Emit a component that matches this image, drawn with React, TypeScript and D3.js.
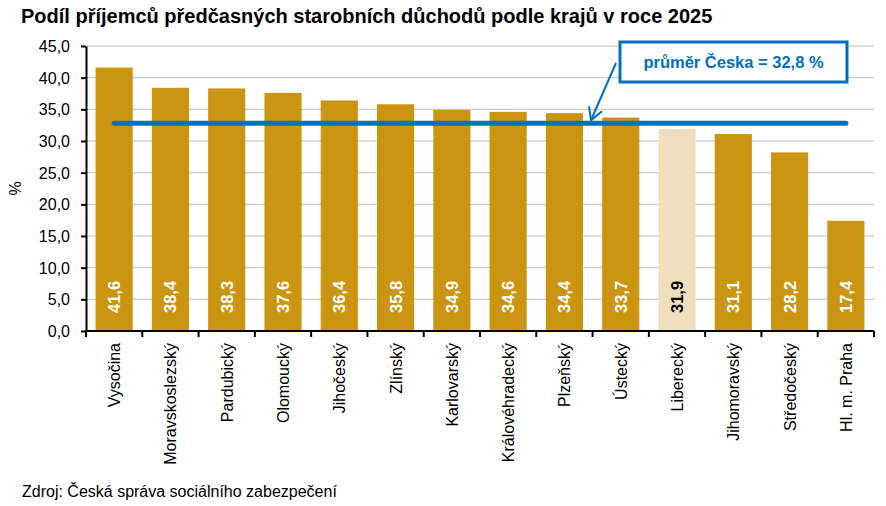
import React, { useEffect, useRef } from "react";
import * as d3 from "d3";

const regions = [
  "Vysočina", "Moravskoslezský", "Pardubický", "Olomoucký", "Jihočeský", "Zlínský",
  "Karlovarský", "Královéhradecký", "Plzeňský", "Ústecký", "Liberecký",
  "Jihomoravský", "Středočeský", "Hl. m. Praha",
];
const shares = [41.6, 38.4, 38.3, 37.6, 36.4, 35.8, 34.9, 34.6, 34.4, 33.7, 31.9, 31.1, 28.2, 17.4];
const highlighted = ["Liberecký"];
const yTicks = [0, 5, 10, 15, 20, 25, 30, 35, 40, 45];
const czAverage = 32.8;

const fmt = (v: number) => v.toFixed(1).replace(".", ",");

const App = () => {
  const svgRef = useRef<SVGSVGElement>(null);

  useEffect(() => {
    const width = 886, height = 506;
    const margin = { top: 46, right: 12, bottom: 175, left: 86 };
    const font = "'Liberation Sans', Arial, sans-serif";
    const gold = "#CB9511", pale = "#F0DFBF", blue = "#0070C0";

    const svg = d3.select(svgRef.current)
      .attr("width", width)
      .attr("height", height)
      .style("font-family", font);
    svg.selectAll("*").remove();

    const x = d3.scaleBand()
      .domain(regions)
      .range([margin.left, width - margin.right])
      .paddingInner(0.34)
      .paddingOuter(0.17);

    const y = d3.scaleLinear()
      .domain([0, 45])
      .range([height - margin.bottom, margin.top]);

    // gridlines
    svg.append("g")
      .selectAll("line")
      .data(yTicks.slice(1))
      .join("line")
      .attr("x1", margin.left)
      .attr("x2", width - margin.right)
      .attr("y1", d => y(d))
      .attr("y2", d => y(d))
      .attr("stroke", "#BFBFBF")
      .attr("stroke-width", 1);

    // bars
    svg.append("g")
      .selectAll("rect")
      .data(regions)
      .join("rect")
      .attr("x", d => x(d)!)
      .attr("width", x.bandwidth())
      .attr("y", (d, i) => y(shares[i]))
      .attr("height", (d, i) => y(0) - y(shares[i]))
      .attr("fill", d => highlighted.includes(d) ? pale : gold);

    // values inside bars
    svg.append("g")
      .selectAll("text")
      .data(regions)
      .join("text")
      .attr("transform", d => `translate(${x(d)! + x.bandwidth() / 2 + 6},${y(0) - 18}) rotate(-90)`)
      .attr("text-anchor", "start")
      .style("font-size", "16.5px")
      .style("font-weight", "bold")
      .attr("fill", d => highlighted.includes(d) ? "#000" : "#fff")
      .text((d, i) => fmt(shares[i]));

    // y axis
    const yAxis = svg.append("g")
      .attr("transform", `translate(${margin.left},0)`)
      .call(d3.axisLeft(y).tickValues(yTicks).tickFormat(d => fmt(+d)).tickSize(5).tickSizeOuter(0));
    yAxis.select(".domain").attr("stroke", "#000").attr("stroke-width", 2);
    yAxis.selectAll(".tick line").attr("stroke", "#000").attr("stroke-width", 2);
    yAxis.selectAll(".tick text")
      .attr("x", -16)
      .attr("dy", "0.35em")
      .style("font-size", "16px")
      .style("font-family", font)
      .attr("fill", "#000");

    // x axis line + ticks at band boundaries
    const step = x.step();
    const xAxis = svg.append("g");
    xAxis.append("line")
      .attr("x1", margin.left - 1)
      .attr("x2", width - margin.right)
      .attr("y1", y(0))
      .attr("y2", y(0))
      .attr("stroke", "#000")
      .attr("stroke-width", 2);
    xAxis.selectAll("line.tk")
      .data(d3.range(regions.length + 1))
      .join("line")
      .attr("class", "tk")
      .attr("x1", i => margin.left + i * step)
      .attr("x2", i => margin.left + i * step)
      .attr("y1", y(0))
      .attr("y2", y(0) + 6)
      .attr("stroke", "#000")
      .attr("stroke-width", 2);
    xAxis.selectAll("text")
      .data(regions)
      .join("text")
      .attr("transform", d => `translate(${x(d)! + x.bandwidth() / 2 + 6},${y(0) + 12}) rotate(-90)`)
      .attr("text-anchor", "end")
      .style("font-size", "16px")
      .attr("fill", "#000")
      .text(d => d);

    // average line
    const first = x(regions[0])! + x.bandwidth() / 2;
    const last = x(regions[regions.length - 1])! + x.bandwidth() / 2;
    svg.append("line")
      .attr("x1", first)
      .attr("x2", last)
      .attr("y1", y(czAverage))
      .attr("y2", y(czAverage))
      .attr("stroke", blue)
      .attr("stroke-width", 5)
      .attr("stroke-linecap", "round");

    // callout
    const box = { x: 620, y: 42, w: 227, h: 40 };
    svg.append("rect")
      .attr("x", box.x)
      .attr("y", box.y)
      .attr("width", box.w)
      .attr("height", box.h)
      .attr("fill", "#fff")
      .attr("stroke", blue)
      .attr("stroke-width", 3);
    svg.append("text")
      .attr("x", box.x + box.w / 2)
      .attr("y", box.y + box.h / 2 + 6)
      .attr("text-anchor", "middle")
      .style("font-size", "16.5px")
      .style("font-weight", "bold")
      .attr("fill", blue)
      .text(`průměr Česka = ${fmt(czAverage)} %`);

    const tip = { x: 591, y: y(czAverage) - 3 };
    svg.append("line")
      .attr("x1", 616)
      .attr("y1", 63)
      .attr("x2", tip.x)
      .attr("y2", tip.y)
      .attr("stroke", blue)
      .attr("stroke-width", 2);
    svg.append("path")
      .attr("d", `M${tip.x - 2},${tip.y - 14} L${tip.x},${tip.y} L${tip.x + 11},${tip.y - 9}`)
      .attr("fill", "none")
      .attr("stroke", blue)
      .attr("stroke-width", 2);

    // y axis label
    svg.append("text")
      .attr("transform", `translate(21,${(y(0) + y(45)) / 2}) rotate(-90)`)
      .attr("text-anchor", "middle")
      .style("font-size", "16px")
      .attr("fill", "#000")
      .text("%");

    // title
    svg.append("text")
      .attr("x", 21)
      .attr("y", 23)
      .style("font-size", "20px")
      .style("font-weight", "bold")
      .attr("fill", "#000")
      .text("Podíl příjemců předčasných starobních důchodů podle krajů v roce 2025");

    // source
    svg.append("text")
      .attr("x", 22)
      .attr("y", 497)
      .style("font-size", "16px")
      .attr("fill", "#000")
      .text("Zdroj: Česká správa sociálního zabezpečení");
  }, []);

  return (
    <div style={{ position: "absolute", left: 0, top: 0 }}>
      <svg ref={svgRef}></svg>
    </div>
  );
};

export default App;
